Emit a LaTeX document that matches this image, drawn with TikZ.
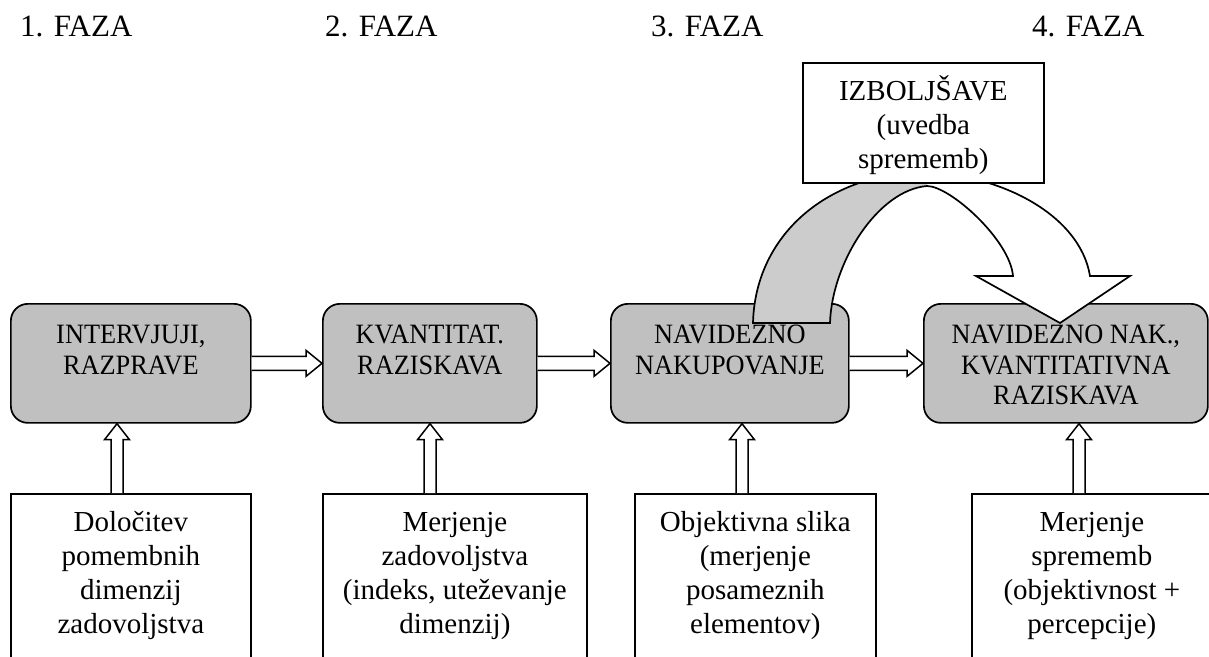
\documentclass[tikz,border=0pt]{standalone}
\usepackage{fontspec}
\setmainfont{Liberation Serif}
\newfontfamily\condserif{Liberation Serif}[FakeStretch=0.94]
\usetikzlibrary{calc}

\definecolor{boxgray}{RGB}{192,192,192}
\definecolor{bandgray}{RGB}{204,204,204}

% fixed-size text block: width, height, first baseline depth, lines
\newcommand\boxtext[4]{\parbox[t][#2][t]{#1}{\fontsize{29}{34}\selectfont\centering\rule{0pt}{#3}#4}}
\newcommand\condtext[4]{\parbox[t][#2][t]{#1}{\condserif\fontsize{28}{30.5}\selectfont\centering\rule{0pt}{#3}#4}}

% hollow block arrow from the east side of #1 to the west side of #2
\newcommand\harrow[2]{%
  \path[blockarrow] let \p1=(#1.east), \p2=(#2.west) in
    (\x1,\y1+7pt) -- (\x2-16pt,\y1+7pt) -- (\x2-16pt,\y1+13pt) -- (\x2,\y1)
    -- (\x2-16pt,\y1-13pt) -- (\x2-16pt,\y1-7pt) -- (\x1,\y1-7pt);}
% hollow block arrow at x=#1 from the top of #2 up to the bottom of #3
\newcommand\varrow[3]{%
  \path[blockarrow] let \p1=(#2.north), \p2=(#3.south) in
    ({#1pt-6pt},\y1) -- ({#1pt-6pt},\y2-16pt) -- ({#1pt-12.5pt},\y2-16pt) -- (#1pt,\y2)
    -- ({#1pt+12.5pt},\y2-16pt) -- ({#1pt+6pt},\y2-16pt) -- ({#1pt+6pt},\y1);}

\tikzset{
  graybox/.style={draw, line width=1.7pt, fill=boxgray, rounded corners=17pt,
    inner sep=0pt, anchor=north west},
  whitebox/.style={draw, line width=1.7pt, fill=white, inner sep=0pt, anchor=north west},
  blockarrow/.style={draw, line width=1.5pt, fill=white, line join=miter},
  phase/.style={anchor=base west, inner sep=0pt, font=\fontsize{31}{36}\selectfont},
  bandline/.style={line width=1.7pt, line join=miter},
}

\begin{document}
\begin{tikzpicture}[x=1pt, y=-1pt]
\clip (0,0) rectangle (1209,656);
\fill[white] (0,0) rectangle (1209,656);

% phase headings
\node[phase] (f1) at (20,36) {1. FAZA};
\node[phase] (f2) at (325,36) {2. FAZA};
\node[phase] (f3) at (651,36) {3. FAZA};
\node[phase] (f4) at (1032,36) {4. FAZA};

% main process steps
\node[graybox] (g1) at (10,303) {\condtext{240pt}{119pt}{40pt}{INTERVJUJI,\\RAZPRAVE}};
\node[graybox] (g2) at (322,303) {\condtext{214pt}{119pt}{40pt}{KVANTITAT.\\RAZISKAVA}};
\node[graybox] (g3) at (610,303) {\condtext{238pt}{119pt}{40pt}{NAVIDEZNO\\NAKUPOVANJE}};
\node[graybox] (g4) at (923,303) {\condtext{284pt}{119pt}{40pt}{NAVIDEZNO NAK.,\\KVANTITATIVNA\\RAZISKAVA}};

% supporting activities
\node[whitebox] (s1) at (10,493) {\boxtext{240pt}{200pt}{38pt}{Določitev\\pomembnih\\dimenzij\\zadovoljstva}};
\node[whitebox] (s2) at (322,493) {\boxtext{264pt}{200pt}{38pt}{Merjenje\\zadovoljstva\\(indeks, uteževanje\\dimenzij)}};
\node[whitebox] (s3) at (634,493) {\boxtext{241pt}{200pt}{38pt}{Objektivna slika\\(merjenje\\posameznih\\elementov)}};
\node[whitebox] (s4) at (971,493) {\boxtext{240pt}{200pt}{38pt}{Merjenje\\sprememb\\(objektivnost +\\percepcije)}};

% flow between the steps
\harrow{g1}{g2}
\harrow{g2}{g3}
\harrow{g3}{g4}

% inputs into each step
\varrow{117}{s1}{g1}
\varrow{430}{s2}{g2}
\varrow{742}{s3}{g3}
\varrow{1079}{s4}{g4}

% curved feedback arrow over the improvements box
\fill[white] (753,323) .. controls (755,240) and (820,178) .. (915,172)
  .. controls (1000,172) and (1080,215) .. (1090,276) -- (1130,276) -- (1060,323)
  -- (976,276) -- (1013,276) .. controls (1010,240) and (950,186) .. (927,186)
  .. controls (878,190) and (832,262) .. (830,323) -- cycle;
\fill[bandgray] (753,323) .. controls (755,240) and (820,178) .. (915,172)
  -- (927,172) -- (927,186) .. controls (878,190) and (832,262) .. (830,323) -- cycle;
\draw[bandline] (753,323) .. controls (755,240) and (820,178) .. (915,172)
  .. controls (1000,172) and (1080,215) .. (1090,276) -- (1130,276) -- (1060,323)
  -- (976,276) -- (1013,276) .. controls (1010,240) and (950,186) .. (927,186)
  .. controls (878,190) and (832,262) .. (830,323) -- cycle;

% improvements
\node[whitebox] (iz) at (802,62) {\boxtext{241pt}{120pt}{38pt}{IZBOLJŠAVE\\(uvedba\\sprememb)}};
\end{tikzpicture}
\end{document}
